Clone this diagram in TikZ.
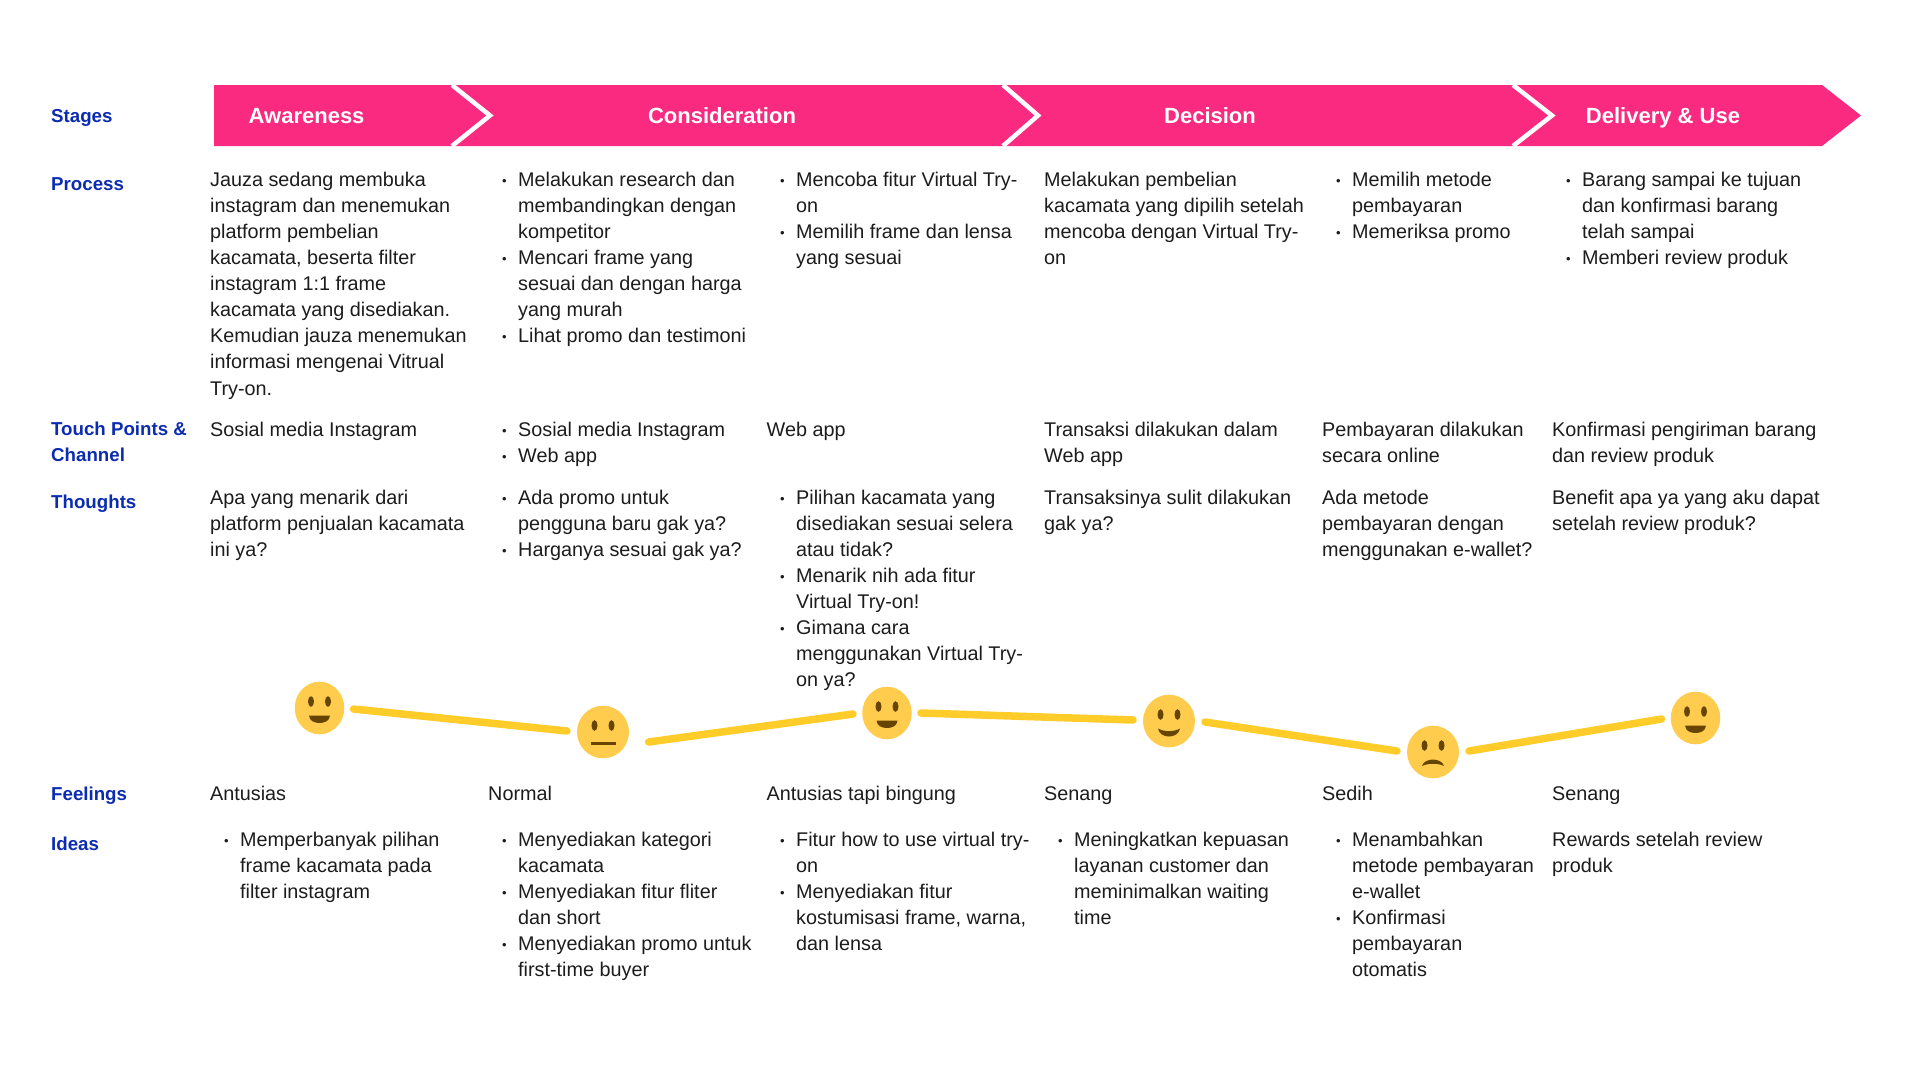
\documentclass[tikz,border=0pt]{standalone}
\usepackage{fontspec}
\usetikzlibrary{shapes.geometric,calc}
\setmainfont{Liberation Sans}
\definecolor{pinkbar}{HTML}{FA2A80}
\definecolor{headblue}{HTML}{0B2BB0}
\definecolor{bodyink}{HTML}{1C1C1C}
\definecolor{linegold}{HTML}{FFCC29}
\definecolor{facegold}{HTML}{FFCC4D}
\definecolor{facebrown}{HTML}{664500}
\newcommand{\bodyfont}{\fontsize{19.8}{26.1}\selectfont}
\newcommand{\headfont}{\fontsize{18.7}{26.1}\selectfont\bfseries}
\newcommand{\B}{\leavevmode\llap{\raisebox{1.2pt}{\fontsize{13}{13}\selectfont\textbullet}\hspace{11.5pt}}}
\tikzset{
  txt/.style={anchor=north west,inner sep=0pt,align=left,font=\bodyfont,text=bodyink,execute at begin node=\strut},
  rowhead/.style={txt,font=\headfont,text=headblue},
  stagetitle/.style={inner sep=0pt,anchor=base,font=\fontsize{22}{26}\selectfont\bfseries,text=white},
  chev/.style={draw=white,line width=4.5pt,line join=miter},
  feel/.style={draw=linegold,line width=7.5pt,line cap=round},
  face/.style={shape=ellipse,fill=facegold,inner sep=0pt,minimum width=#1,minimum height=52.6pt},
  feat/.style={fill=facebrown,draw=none},
}
\newcommand{\eyes}[1]{%
  \fill[feat] ($(#1)+(-8.5,-6.5)$) ellipse[x radius=3,y radius=5.3];
  \fill[feat] ($(#1)+(8.5,-6.5)$) ellipse[x radius=3,y radius=5.3];}
\newcommand{\happy}[1]{\fill[feat] ($(#1)+(-10.5,7.5)$) -- ($(#1)+(10.5,7.5)$) .. controls ($(#1)+(10,13)$) and ($(#1)+(5,15)$) .. ($(#1)+(0,15)$) .. controls ($(#1)+(-5,15)$) and ($(#1)+(-10,13)$) .. cycle;}
\begin{document}
\begin{tikzpicture}[x=1pt,y=-1pt]
\useasboundingbox (0,0) rectangle (1920,1080);
% banner
\fill[pinkbar] (214,85) -- (1822,85) -- (1861,115.5) -- (1822,146) -- (214,146) -- cycle;
\coordinate (c1t) at (452,85); \coordinate (c1m) at (490,115.5); \coordinate (c1b) at (452,146);
\coordinate (c2t) at (1003,85); \coordinate (c2m) at (1038,115.5); \coordinate (c2b) at (1003,146);
\coordinate (c3t) at (1513,85); \coordinate (c3m) at (1552,115.5); \coordinate (c3b) at (1513,146);
\draw[chev] (c1t) -- (c1m) -- (c1b);
\draw[chev] (c2t) -- (c2m) -- (c2b);
\draw[chev] (c3t) -- (c3m) -- (c3b);
\node[stagetitle,anchor=base west] (st1) at (248.5,123.5) {Awareness};
\node[stagetitle] (st2) at (722,123.5) {Consideration};
\node[stagetitle] (st3) at (1210,123.5) {Decision};
\node[stagetitle] (st4) at (1663,123.5) {Delivery \& Use};
% row heads
\node[rowhead] (h1) at (51,104) {Stages};
\node[rowhead] (h2) at (51,172) {Process};
\node[rowhead] (h3) at (51,422) {Touch Points \&\\Channel};
\node[rowhead] (h4) at (51,490) {Thoughts};
\node[rowhead] (h5) at (51,782) {Feelings};
\node[rowhead] (h6) at (51,832) {Ideas};
% process
\node[txt] (p1) at (210,171.7) {Jauza sedang membuka\\instagram dan menemukan\\platform pembelian\\kacamata, beserta filter\\instagram 1:1 frame\\kacamata yang disediakan.\\Kemudian jauza menemukan\\informasi mengenai Vitrual\\Try-on.};
\node[txt] (p2) at (518,171.7) {\B Melakukan research dan\\membandingkan dengan\\kompetitor\\\B Mencari frame yang\\sesuai dan dengan harga\\yang murah\\\B Lihat promo dan testimoni};
\node[txt] (p3) at (796,171.7) {\B Mencoba fitur Virtual Try-\\on\\\B Memilih frame dan lensa\\yang sesuai};
\node[txt] (p4) at (1044,171.7) {Melakukan pembelian\\kacamata yang dipilih setelah\\mencoba dengan Virtual Try-\\on};
\node[txt] (p5) at (1352,171.7) {\B Memilih metode\\pembayaran\\\B Memeriksa promo};
\node[txt] (p6) at (1582,171.7) {\B Barang sampai ke tujuan\\dan konfirmasi barang\\telah sampai\\\B Memberi review produk};
% touch points
\node[txt] (t1) at (210,418) {Sosial media Instagram};
\node[txt] (t2) at (518,421.7) {\B Sosial media Instagram\\\B Web app};
\node[txt] (t3) at (766.5,418) {Web app};
\node[txt] (t4) at (1044,421.7) {Transaksi dilakukan dalam\\Web app};
\node[txt] (t5) at (1322,421.7) {Pembayaran dilakukan\\secara online};
\node[txt] (t6) at (1552,421.7) {Konfirmasi pengiriman barang\\dan review produk};
% thoughts
\node[txt] (q1) at (210,489.7) {Apa yang menarik dari\\platform penjualan kacamata\\ini ya?};
\node[txt] (q2) at (518,489.7) {\B Ada promo untuk\\pengguna baru gak ya?\\\B Harganya sesuai gak ya?};
\node[txt] (q3) at (796,489.7) {\B Pilihan kacamata yang\\disediakan sesuai selera\\atau tidak?\\\B Menarik nih ada fitur\\Virtual Try-on!\\\B Gimana cara\\menggunakan Virtual Try-\\on ya?};
\node[txt] (q4) at (1044,489.7) {Transaksinya sulit dilakukan\\gak ya?};
\node[txt] (q5) at (1322,489.7) {Ada metode\\pembayaran dengan\\menggunakan e-wallet?};
\node[txt] (q6) at (1552,489.7) {Benefit apa ya yang aku dapat\\setelah review produk?};
% feelings curve
\coordinate (a1) at (353.5,709); \coordinate (b1) at (567,731);
\coordinate (a2) at (648.6,742); \coordinate (b2) at (853,714);
\coordinate (a3) at (921,713);   \coordinate (b3) at (1133,720);
\coordinate (a4) at (1205,722);  \coordinate (b4) at (1397,751);
\coordinate (a5) at (1469,751);  \coordinate (b5) at (1661.5,719);
\draw[feel] (a1) -- (b1);
\draw[feel] (a2) -- (b2);
\draw[feel] (a3) -- (b3);
\draw[feel] (a4) -- (b4);
\draw[feel] (a5) -- (b5);
\node[face=49.5pt] (f1) at (319.5,708) {};
\node[face=52pt]   (f2) at (603,732) {};
\node[face=49.5pt] (f3) at (887,713) {};
\node[face=52pt]   (f4) at (1169,721) {};
\node[face=52pt]   (f5) at (1433,752) {};
\node[face=49.5pt] (f6) at (1695.5,718) {};
\eyes{f1}\happy{f1}
\eyes{f2}\fill[feat] ($(f2)+(-12.5,10)$) rectangle ($(f2)+(12.5,13.2)$);
\eyes{f3}\happy{f3}
\eyes{f4}\fill[feat] ($(f4)+(-11,7.5)$) .. controls ($(f4)+(-5,11)$) and ($(f4)+(5,11)$) .. ($(f4)+(11,7.5)$) .. controls ($(f4)+(10,13)$) and ($(f4)+(5,15.5)$) .. ($(f4)+(0,15.5)$) .. controls ($(f4)+(-5,15.5)$) and ($(f4)+(-10,13)$) .. cycle;
\eyes{f5}\fill[feat] ($(f5)+(-11,14)$) .. controls ($(f5)+(-10,10)$) and ($(f5)+(-5,7.5)$) .. ($(f5)+(0,7.5)$) .. controls ($(f5)+(5,7.5)$) and ($(f5)+(10,10)$) .. ($(f5)+(11,14)$) .. controls ($(f5)+(5,11)$) and ($(f5)+(-5,11)$) .. cycle;
\eyes{f6}\happy{f6}
% feelings labels
\node[txt] (e1) at (210,782) {Antusias};
\node[txt] (e2) at (488,782) {Normal};
\node[txt] (e3) at (766.5,782) {Antusias tapi bingung};
\node[txt] (e4) at (1044,782) {Senang};
\node[txt] (e5) at (1322,782) {Sedih};
\node[txt] (e6) at (1552,782) {Senang};
% ideas
\node[txt] (i1) at (240,831.7) {\B Memperbanyak pilihan\\frame kacamata pada\\filter instagram};
\node[txt] (i2) at (518,831.7) {\B Menyediakan kategori\\kacamata\\\B Menyediakan fitur fliter\\dan short\\\B Menyediakan promo untuk\\first-time buyer};
\node[txt] (i3) at (796,831.7) {\B Fitur how to use virtual try-\\on\\\B Menyediakan fitur\\kostumisasi frame, warna,\\dan lensa};
\node[txt] (i4) at (1074,831.7) {\B Meningkatkan kepuasan\\layanan customer dan\\meminimalkan waiting\\time};
\node[txt] (i5) at (1352,831.7) {\B Menambahkan\\metode pembayaran\\e-wallet\\\B Konfirmasi\\pembayaran\\otomatis};
\node[txt] (i6) at (1552,831.7) {Rewards setelah review\\produk};
\end{tikzpicture}
\end{document}
